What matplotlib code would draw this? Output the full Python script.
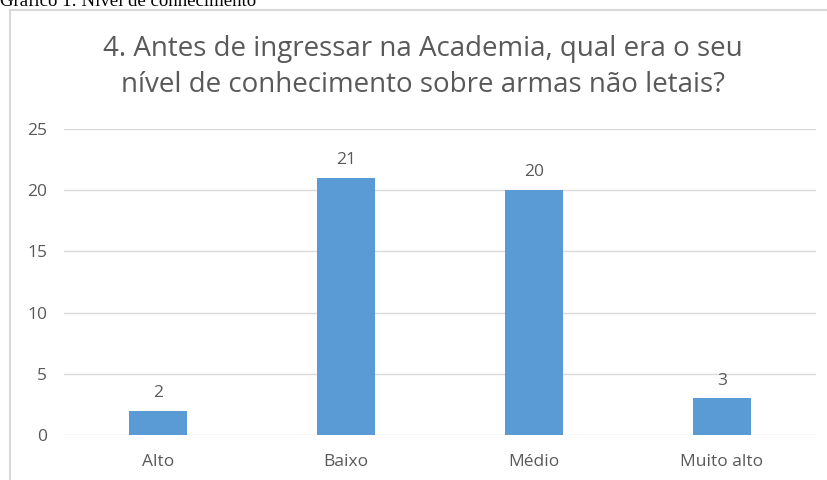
"""
Gráfico 1: Nível de conhecimento sobre armas não letais
"""

import matplotlib.pyplot as plt
from matplotlib.patches import Rectangle

categories = ['Alto', 'Baixo', 'Médio', 'Muito alto']
values = [2, 21, 20, 3]
y_ticks = [0, 5, 10, 15, 20, 25]

title = '4. Antes de ingressar na Academia, qual era o seu\nnível de conhecimento sobre armas não letais?'
caption = 'Gráfico 1: Nível de conhecimento'

BAR_COLOR = '#5b9bd5'
TEXT_COLOR = '#595959'
GRID_COLOR = '#d9d9d9'

W, H = 827, 480
fig = plt.figure(figsize=(W / 100, H / 100), dpi=100)
plt.rcParams['font.family'] = ['Open Sans', 'DejaVu Sans']

# plot area in pixels: x 64..816, y 129..435 (top-down)
ax = fig.add_axes([64 / W, 1 - 435 / H, (816 - 64) / W, (435 - 129) / H])

x = range(len(categories))
bars = ax.bar(x, values, width=0.31, color=BAR_COLOR, zorder=2)
for b, v in zip(bars, values):
    ax.annotate(str(v), (b.get_x() + b.get_width() / 2, v), xytext=(0, 7),
                textcoords='offset points', ha='center', va='bottom',
                fontsize=12.5, color=TEXT_COLOR)

ax.set_xlim(-0.5, len(categories) - 0.5)
ax.set_ylim(0, 25)
ax.set_yticks(y_ticks)
ax.set_xticks(list(x))
ax.set_xticklabels(categories)
ax.tick_params(axis='both', length=0, labelsize=12.5, labelcolor=TEXT_COLOR)
ax.tick_params(axis='y', pad=12)
ax.tick_params(axis='x', pad=14)
ax.grid(axis='y', color=GRID_COLOR, linewidth=1, zorder=0)
for s in ax.spines.values():
    s.set_visible(False)

fig.text(423 / W, 1 - 67 / H, title, ha='center', va='center',
         fontsize=20, color=TEXT_COLOR, linespacing=1.4)

# chart frame (cut off on the right and bottom)
frame = Rectangle((10 / W, -0.1), 1.2, 1.1 - 10 / H, transform=fig.transFigure,
                  fill=False, edgecolor=GRID_COLOR, linewidth=1.5, clip_on=False)
fig.patches.append(frame)

# caption above the frame, mostly cut off by the crop
fig.text(0, 1 - 5.5 / H, caption, ha='left', va='baseline',
         fontsize=13.5, color='black', family=['Liberation Serif', 'DejaVu Serif'])

fig.savefig('out.png', dpi=100, facecolor='white')
plt.close(fig)
